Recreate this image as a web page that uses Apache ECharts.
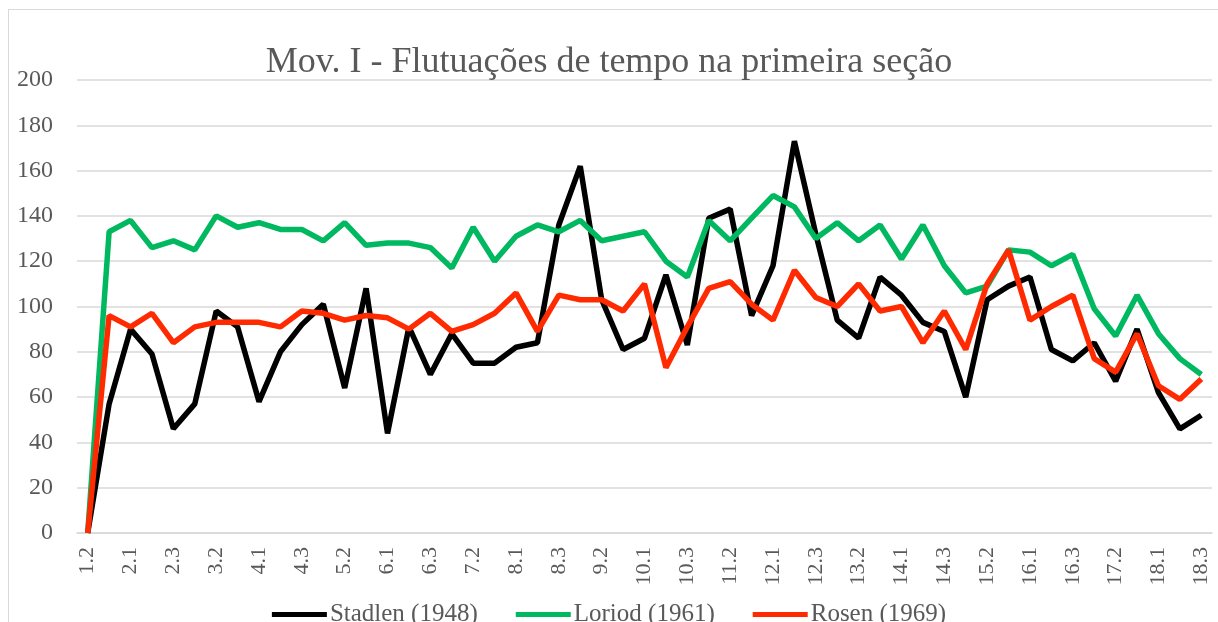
<!DOCTYPE html>
<html>
<head>
<meta charset="utf-8">
<script src="https://cdn.jsdelivr.net/npm/echarts@6/dist/echarts.min.js"></script>
<style>
  html, body { margin: 0; padding: 0; background: #fff; overflow: hidden; }
  #frame { position: absolute; left: 8px; top: 9px; width: 1400px; height: 800px; border: 1.5px solid #d9d9d9; }
  #chart { position: absolute; left: 0; top: 0; width: 1218px; height: 622px; }
</style>
</head>
<body>
<div id="frame"></div>
<div id="chart"></div>
<script>
let categories = ["1.2", "1.3",
  "2.1", "2.2", "2.3", "3.1", "3.2", "3.3", "4.1", "4.2", "4.3",
  "5.1", "5.2", "5.3", "6.1", "6.2", "6.3", "7.1", "7.2", "7.3",
  "8.1", "8.2", "8.3", "9.1", "9.2", "9.3", "10.1", "10.2", "10.3",
  "11.1", "11.2", "11.3", "12.1", "12.2", "12.3", "13.1", "13.2", "13.3",
  "14.1", "14.2", "14.3", "15.1", "15.2", "15.3", "16.1", "16.2", "16.3",
  "17.1", "17.2", "17.3", "18.1", "18.2", "18.3"];

let stadlen = [0, 57, 90, 79, 46, 57, 98, 91, 58, 80, 92, 101, 64, 108, 44, 91, 70, 88,
  75, 75, 82, 84, 136, 162, 103, 81, 86, 114, 83, 139, 143, 96, 118, 173, 132, 94,
  86, 113, 105, 93, 89, 60, 103, 109, 113, 81, 76, 84, 67, 90, 62, 46, 52];

let loriod = [0, 133, 138, 126, 129, 125, 140, 135, 137, 134, 134, 129, 137, 127, 128, 128, 126, 117,
  135, 120, 131, 136, 133, 138, 129, 131, 133, 120, 113, 138, 129, 139, 149, 144, 130, 137,
  129, 136, 121, 136, 118, 106, 109, 125, 124, 118, 123, 99, 87, 105, 88, 77, 70];

let rosen = [0, 96, 91, 97, 84, 91, 93, 93, 93, 91, 98, 97, 94, 96, 95, 90, 97, 89,
  92, 97, 106, 89, 105, 103, 103, 98, 110, 73, 91, 108, 111, 101, 94, 116, 104, 100,
  110, 98, 100, 84, 98, 81, 110, 125, 94, 100, 105, 77, 71, 88, 65, 59, 68];

let font = "'Liberation Serif', serif";
let textColor = "#595959";

let chartsOptions = {
  animation: false,
  title: {
    text: "Mov. I - Flutuações de tempo na primeira seção",
    left: "center",
    top: 40,
    textStyle: { fontFamily: font, fontSize: 36, fontWeight: "normal", color: textColor }
  },
  grid: {
    left: 77,
    right: 6,
    top: 80,
    height: 453,
    containLabel: false
  },
  legend: {
    data: ["Stadlen (1948)", "Loriod (1961)", "Rosen (1969)"],
    top: 597,
    left: "center",
    icon: "rect",
    itemWidth: 55,
    itemHeight: 5,
    itemGap: 38,
    textStyle: { fontFamily: font, fontSize: 25, color: textColor, padding: [0, 0, 0, -2] }
  },
  xAxis: {
    type: "category",
    data: categories,
    boundaryGap: true,
    axisTick: { show: false },
    axisLine: { lineStyle: { color: "#d9d9d9", width: 1.5 } },
    axisLabel: {
      interval: 1,
      rotate: 90,
      margin: 14,
      fontFamily: font,
      fontSize: 22,
      color: textColor
    }
  },
  yAxis: {
    type: "value",
    min: 0,
    max: 200,
    interval: 20,
    axisLine: { show: false },
    axisTick: { show: false },
    axisLabel: { margin: 24, fontFamily: font, fontSize: 24, color: textColor },
    splitLine: { lineStyle: { color: "#d9d9d9", width: 1.5 } }
  },
  series: [
    {
      name: "Stadlen (1948)",
      type: "line",
      data: stadlen,
      symbol: "none",
      lineStyle: { color: "#000000", width: 5.5 },
      itemStyle: { color: "#000000" }
    },
    {
      name: "Loriod (1961)",
      type: "line",
      data: loriod,
      symbol: "none",
      lineStyle: { color: "#00b85f", width: 5.5 },
      itemStyle: { color: "#00b85f" }
    },
    {
      name: "Rosen (1969)",
      type: "line",
      data: rosen,
      symbol: "none",
      lineStyle: { color: "#ff2a00", width: 5.5 },
      itemStyle: { color: "#ff2a00" }
    }
  ]
};

let dataCharts = echarts.init(document.getElementById("chart"));
dataCharts.setOption(chartsOptions);
</script>
</body>
</html>
